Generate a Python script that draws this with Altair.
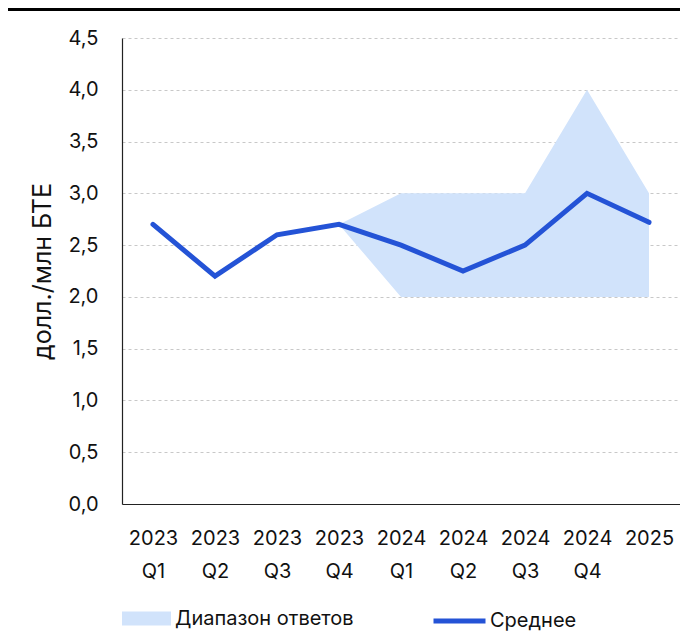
import altair as alt
import pandas as pd

categories = ["2023 Q1", "2023 Q2", "2023 Q3", "2023 Q4", "2024 Q1",
              "2024 Q2", "2024 Q3", "2024 Q4", "2025"]
mean_values = [2.7, 2.2, 2.6, 2.7, 2.5, 2.25, 2.5, 3.0, 2.72]
range_low = [None, None, None, 2.7, 2.0, 2.0, 2.0, 2.0, 2.0]
range_high = [None, None, None, 2.7, 3.0, 3.0, 3.0, 4.0, 3.0]
y_ticks = [0.0, 0.5, 1.0, 1.5, 2.0, 2.5, 3.0, 3.5, 4.0, 4.5]
series_names = ["Диапазон ответов", "Среднее"]

FONT = "Inter"
TITLE_Y = "долл./млн БТЕ"

df = pd.DataFrame({"period": categories, "mean": mean_values,
                   "low": range_low, "high": range_high})
df["range_name"] = series_names[0]
df["mean_name"] = series_names[1]

x_enc = alt.X("period:N", sort=categories,
              scale=alt.Scale(type="point", padding=0.5),
              axis=alt.Axis(title=None, labelAngle=0, labelExpr="split(datum.label, ' ')",
                            labelLineHeight=33, labelPadding=24, labelFontSize=20,
                            labelFont=FONT, labelColor="#111", ticks=False,
                            domainColor="#222", domainWidth=1.2, grid=False,
                            labelBaseline="top"))

y_axis = alt.Axis(title=TITLE_Y, values=y_ticks,
                  labelExpr="replace(format(datum.value, '.1f'), '.', ',')",
                  labelFontSize=20, labelFont=FONT, labelColor="#111", labelPadding=24,
                  ticks=False, domainColor="#222", domainWidth=1.2,
                  grid=True, gridDash=[3, 3], gridColor="#c8c8c8", gridWidth=1,
                  titleFontSize=25, titleFont=FONT, titleFontWeight="normal",
                  titleColor="#111", titlePadding=12)
y_scale = alt.Scale(domain=[0, 4.5], nice=False, zero=True)

area = alt.Chart(df).transform_filter("isValid(datum.low)").mark_area(opacity=1).encode(
    x=x_enc,
    y=alt.Y("low:Q", scale=y_scale, axis=y_axis),
    y2="high:Q",
    fill=alt.Fill("range_name:N",
                  scale=alt.Scale(range=["#d1e3fb"]),
                  legend=alt.Legend(title=None, orient="none", legendX=0, legendY=556,
                                    symbolType="M-1,-0.29L1,-0.29L1,0.29L-1,0.29Z",
                                    symbolSize=2401, symbolStrokeWidth=0,
                                    symbolOpacity=1, labelLimit=400,
                                    labelFontSize=20, labelFont=FONT, labelColor="#111",
                                    labelOffset=4, padding=0)),
)

line = alt.Chart(df).mark_line(strokeWidth=5, strokeJoin="miter", strokeCap="round").encode(
    x=x_enc,
    y=alt.Y("mean:Q", scale=y_scale, axis=y_axis),
    stroke=alt.Stroke("mean_name:N",
                      scale=alt.Scale(range=["#2453d6"]),
                      legend=alt.Legend(title=None, orient="none", legendX=309, legendY=554.5,
                                        symbolType="stroke", symbolSize=2704,
                                        symbolStrokeWidth=5, labelLimit=400,
                                        labelFontSize=20, labelFont=FONT, labelColor="#111",
                                        labelOffset=2, padding=0)),
)

top_rule = alt.Chart(df).mark_rule(color="#000", strokeWidth=3).encode(
    x=alt.value(-114), x2=alt.value(558), y=alt.value(-29))

chart = alt.layer(top_rule, area, line).resolve_scale(fill="independent", stroke="independent").properties(
    width=558, height=466,
    autosize=alt.AutoSizeParams(type="none"),
    padding={"left": 114, "top": 30, "right": 0, "bottom": 128},
).configure_view(stroke=None)

chart.save("out.html", embed_options={"renderer": "svg", "actions": False})
